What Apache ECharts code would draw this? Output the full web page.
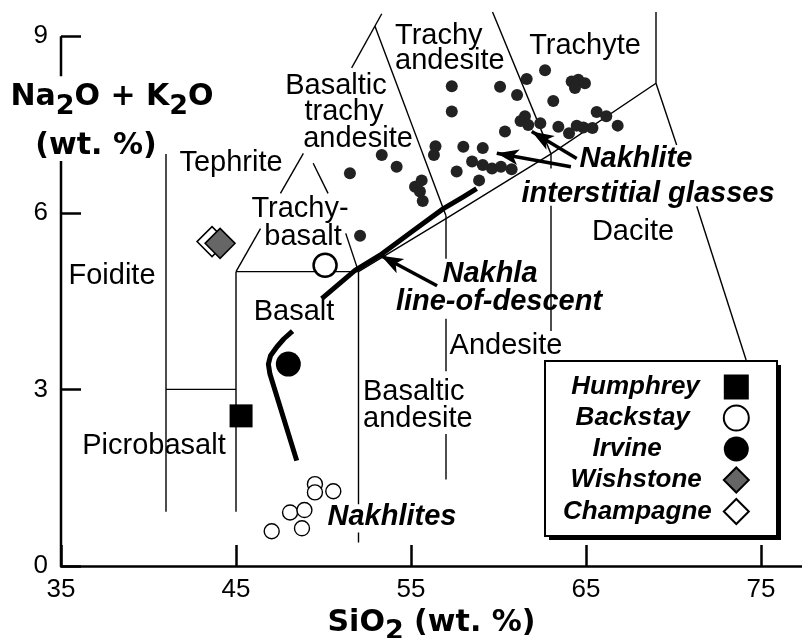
<!DOCTYPE html>
<html>
<head>
<meta charset="utf-8">
<title>TAS diagram - Nakhlites and Gusev rocks</title>
<script src="https://cdn.jsdelivr.net/npm/echarts@6/dist/echarts.min.js"></script>
<style>
  html, body { margin: 0; padding: 0; background: #fff; }
  #chart { width: 802px; height: 638px; }
</style>
</head>
<body>
<div id="chart"></div>
<script>
// ---- values (SiO2 wt.%, Na2O+K2O wt.%) ----
const xTicks = [35, 45, 55, 65, 75]
const yTicks = [0, 3, 6, 9]

// nakhlite interstitial glasses
const glasses = [
  [51.51, 6.67], [52.09, 5.61], [53.33, 6.98], [54.18, 6.78],
  [55.23, 6.44], [55.61, 6.55], [55.51, 6.36], [55.67, 6.20],
  [56.31, 6.98], [56.40, 7.13], [57.33, 8.15], [57.33, 7.72],
  [57.61, 6.70], [57.99, 7.12], [58.49, 6.87], [58.89, 6.55],
  [59.10, 7.10], [59.10, 6.81], [59.63, 6.75], [60.09, 8.14],
  [60.14, 6.78], [60.75, 6.74], [60.37, 7.38], [61.06, 8.00],
  [61.61, 8.27], [62.66, 8.42], [63.13, 7.90], [61.51, 7.64],
  [61.26, 7.56], [61.70, 7.49], [62.39, 7.52], [63.42, 7.46],
  [64.03, 7.35], [64.47, 7.48], [64.85, 7.45], [65.37, 7.44],
  [65.61, 7.71], [66.16, 7.64], [66.81, 7.48], [64.18, 8.23],
  [64.56, 8.26], [64.94, 8.20], [64.37, 8.12]
]

// bulk nakhlites
const nakhlites = [
  [49.51, 1.39], [49.51, 1.25], [50.56, 1.27], [48.09, 0.91],
  [48.91, 0.95], [48.77, 0.64], [47.04, 0.59]
]

// Gusev crater rocks
const humphrey = [[45.29, 2.55]]
const backstay = [[50.09, 5.11]]
const irvine = [[47.99, 3.43]]
const wishstone = [[44.09, 5.48]]
const champagne = [[43.63, 5.51]]

// Nakhla line-of-descent (broken where the "Basalt" label sits)
const descentLower = [[48.47, 1.79], [46.94, 3.26], [46.85, 3.43], [46.97, 3.57], [47.33, 3.72], [47.74, 3.86], [48.23, 3.99]]
const descentUpper = [[49.90, 4.54], [51.80, 5.02], [53.23, 5.28], [55.10, 5.69], [56.85, 6.07], [57.99, 6.27], [58.75, 6.41]]

// TAS field boundaries, cut where labels sit
const fieldLines = [
  [[41, 7.0], [41, 0.92]],
  [[41, 3], [45, 3]],
  [[45, 5], [45, 0.92]],
  [[45, 5], [52, 5]],
  [[52, 5], [52, 1.05]],
  [[52, 0.57], [52, 0.40]],
  [[57, 5.95], [57, 5.22]],
  [[57, 4.20], [57, 3.31]],
  [[57, 2.24], [57, 1.47]],
  [[63, 7.0], [63, 6.75]],
  [[63, 6.12], [63, 3.99]],
  [[69, 8.2], [69, 9.41]],
  [[52, 5], [57, 5.9], [63, 7], [69, 8.2]],
  [[69, 8.2], [70.18, 7.15]],
  [[71.33, 6.11], [74.15, 3.50]],
  [[63, 7], [59.66, 9.41]],
  [[45, 5], [46.40, 5.73]],
  [[47.54, 6.33], [48.85, 7.01]],
  [[52, 5], [51.27, 5.65]],
  [[50.26, 6.33], [49.41, 6.84]],
  [[51.61, 8.46], [53.33, 9.38]],
  [[52.94, 9.17], [57, 5.95]]
]

// y axis drawn by hand: it stops at 9 and leaves room for its title
const yAxisLine = [
  [[35, 9], [35, 8.32]],
  [[35, 6.88], [35, 0]]
]

// annotation arrows, tail -> tip
const arrows = [
  [[56.49, 4.76], [53.29, 5.27]],
  [[64.14, 6.78], [59.90, 7.01]],
  [[64.47, 6.92], [61.90, 7.38]]
]

const fontReg = 'Liberation Sans, Arial, Helvetica, sans-serif'
const fontHead = 'DejaVu Sans, sans-serif'

const chart = echarts.init(document.getElementById('chart'), null, { renderer: 'canvas' })

const toSegs = list => list.map(c => ({ coords: c }))

// plain label (field names)
const label = (text, x, y, align) => ({
  type: 'text', x, y, z: 100, silent: true,
  style: {
    text, fill: '#000',
    fontFamily: fontReg, fontSize: 29,
    align: align || 'center', textAlign: align || 'center',
    verticalAlign: 'middle', textVerticalAlign: 'middle'
  }
})

// bold italic annotation
const note = (text, x, y) => ({
  type: 'text', x, y, z: 100, silent: true,
  style: {
    text, fill: '#000',
    fontFamily: fontReg, fontSize: 29, fontWeight: 'bold', fontStyle: 'italic',
    align: 'center', textAlign: 'center',
    verticalAlign: 'middle', textVerticalAlign: 'middle'
  }
})

const headRich = {
  b: { fontFamily: fontHead, fontSize: 30, fontWeight: 'bold', color: '#000' },
  s: { fontFamily: fontHead, fontSize: 27, fontWeight: 'bold', color: '#000', padding: [19, 0, 0, 0] }
}

const scatter = (name, data, symbol, size, fill, border, z) => ({
  type: 'scatter', name, data, symbol, symbolSize: size, z, silent: true,
  itemStyle: { color: fill, borderColor: '#000', borderWidth: border, opacity: 1 }
})

const option = {
  animation: false,
  backgroundColor: '#fff',
  grid: { left: 61, right: 0, top: 12, bottom: 72, containLabel: false, outerBoundsMode: 'none' },
  xAxis: {
    type: 'value', min: 35, max: 77.343,
    splitLine: { show: false },
    axisLine: { show: true, onZero: false, lineStyle: { color: '#000', width: 2.5 } },
    axisTick: { show: true, inside: true, length: 21, customValues: xTicks, lineStyle: { color: '#000', width: 2.5 } },
    axisLabel: { customValues: xTicks, color: '#000', fontFamily: fontReg, fontSize: 26, margin: 11 },
    name: '{b|SiO}{s|2}{b| (wt. %)}',
    nameLocation: 'middle', nameGap: 29,
    nameTextStyle: { rich: headRich, fontFamily: fontHead, fontSize: 30, fontWeight: 'bold', color: '#000' }
  },
  yAxis: {
    type: 'value', min: 0, max: 9.41,
    splitLine: { show: false },
    axisLine: { show: false },
    axisTick: { show: true, inside: true, length: 20, customValues: yTicks, lineStyle: { color: '#000', width: 2.5 } },
    axisLabel: { customValues: yTicks, color: '#000', fontFamily: fontReg, fontSize: 26, margin: 13 }
  },
  legend: {
    data: [
      { name: 'Humphrey', textStyle: { padding: [0, 19, 0, 0] } },
      { name: 'Backstay', textStyle: { padding: [0, 29, 0, 0] } },
      { name: 'Irvine', textStyle: { padding: [0, 57, 0, 0] } },
      { name: 'Wishstone', textStyle: { padding: [0, 17, 0, 0] } },
      { name: 'Champagne', textStyle: { padding: [0, 7, 0, 0] } }
    ],
    orient: 'vertical', align: 'right',
    left: 545, top: 362, z: 10,
    itemWidth: 25, itemHeight: 25, itemGap: 4.5,
    padding: [12, 28, 8, 18],
    backgroundColor: 'transparent', borderWidth: 0,
    selectedMode: false,
    textStyle: { color: '#000', fontFamily: fontReg, fontSize: 26, fontWeight: 'bold', fontStyle: 'italic' }
  },
  graphic: [
    // legend frame with its drop shadow
    { type: 'rect', z: 8, silent: true, shape: { x: 549, y: 365, width: 232, height: 175 }, style: { fill: '#000' } },
    { type: 'rect', z: 9, silent: true, shape: { x: 545, y: 361, width: 232, height: 175 }, style: { fill: '#fff', stroke: '#000', lineWidth: 2 } },

    // y axis title
    { type: 'text', x: 112, y: 97, z: 100, silent: true,
      style: { text: '{b|Na}{s|2}{b|O + K}{s|2}{b|O}', rich: headRich, fill: '#000',
        fontFamily: fontHead, fontSize: 30, fontWeight: 'bold',
        align: 'center', textAlign: 'center', verticalAlign: 'middle', textVerticalAlign: 'middle' } },
    { type: 'text', x: 96, y: 146, z: 100, silent: true,
      style: { text: '(wt. %)', fill: '#000', fontFamily: fontHead, fontSize: 30, fontWeight: 'bold',
        align: 'center', textAlign: 'center', verticalAlign: 'middle', textVerticalAlign: 'middle' } },

    label('Foidite', 112, 276),
    label('Tephrite', 231, 163),
    label('Basaltic', 336, 86),
    label('trachy', 344, 112),
    label('andesite', 358, 139),
    label('Trachy-', 300, 209),
    label('basalt', 303, 237),
    label('Trachy', 395, 36, 'left'),
    label('andesite', 395, 61, 'left'),
    label('Trachyte', 585, 46),
    label('Dacite', 633, 232),
    label('Andesite', 506, 346),
    label('Basaltic', 363, 392, 'left'),
    label('andesite', 363, 419, 'left'),
    label('Basalt', 294, 312),
    label('Picrobasalt', 154, 446),

    note('Nakhlites', 392, 517),
    note('Nakhla', 490, 274),
    note('line-of-descent', 499, 302),
    note('Nakhlite', 636, 159),
    note('interstitial glasses', 648, 194)
  ],
  series: [
    {
      type: 'lines', name: 'fields', coordinateSystem: 'cartesian2d', polyline: true, silent: true, z: 1,
      lineStyle: { color: '#000', width: 1.4, opacity: 1, curveness: 0 },
      data: toSegs(fieldLines)
    },
    {
      type: 'lines', name: 'yaxis', coordinateSystem: 'cartesian2d', polyline: true, silent: true, z: 1,
      lineStyle: { color: '#000', width: 2.5, opacity: 1 },
      data: toSegs(yAxisLine)
    },
    {
      type: 'lines', name: 'Nakhla line-of-descent', coordinateSystem: 'cartesian2d', polyline: true, silent: true, z: 3,
      lineStyle: { color: '#000', width: 5, opacity: 1, cap: 'butt', join: 'round' },
      data: toSegs([descentLower, descentUpper])
    },
    {
      type: 'lines', name: 'arrows', coordinateSystem: 'cartesian2d', silent: true, z: 6,
      symbol: ['none', 'arrow'], symbolSize: [6, [12, 22]],
      lineStyle: { color: '#000', width: 3.5, opacity: 1 },
      itemStyle: { color: '#000' },
      data: toSegs(arrows)
    },
    scatter('Nakhlite interstitial glasses', glasses, 'circle', 12, '#222', 0, 4),
    scatter('Nakhlites', nakhlites, 'circle', 15, '#fff', 1.4, 4),
    scatter('Humphrey', humphrey, 'rect', 23, '#000', 0, 5),
    scatter('Backstay', backstay, 'circle', 23, '#fff', 2.5, 5),
    scatter('Irvine', irvine, 'circle', 25, '#000', 0, 5),
    scatter('Champagne', champagne, 'diamond', 30, '#fff', 1.5, 5),
    scatter('Wishstone', wishstone, 'diamond', 30, '#666', 1.5, 5)
  ]
}

chart.setOption(option)
</script>
</body>
</html>
